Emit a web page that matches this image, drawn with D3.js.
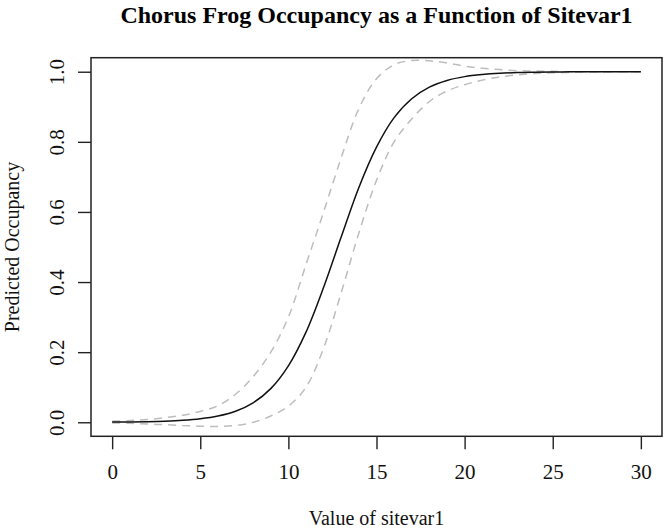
<!DOCTYPE html>
<html>
<head>
<meta charset="utf-8">
<script src="https://cdn.jsdelivr.net/npm/d3@7"></script>
<style>
  body { margin:0; background:#fff; }
  text { font-family:"Liberation Serif","Times New Roman",serif; }
</style>
</head>
<body>
<div class="canvas"></div>
<script>
// values
const sitevar = [0,1,2,3,4,5,6,7,8,9,10,11,12,13,14,15,16,17,18,19,20,21,22,23,24,25,26,27,28,29,30];
const predicted = [0.0005,0.001,0.0017,0.0031,0.0055,0.0099,0.0178,0.0316,0.0556,0.096,0.161,0.257,0.385,0.529,0.670,0.785,0.869,0.923,0.956,0.975,0.986,0.992,0.9956,0.9976,0.9987,0.9993,0.9996,0.9998,0.9999,0.9999,1.0];
const upper = [0.003,0.005,0.008,0.013,0.020,0.031,0.047,0.080,0.130,0.200,0.300,0.450,0.600,0.755,0.895,0.980,1.020,1.032,1.031,1.025,1.016,1.010,1.006,1.003,1.002,1.001,1.000,1.000,1.000,1.000,1.000];
const lower = [-0.002,-0.003,-0.005,-0.007,-0.009,-0.011,-0.012,-0.009,0.000,0.018,0.046,0.100,0.212,0.370,0.540,0.690,0.800,0.865,0.915,0.945,0.963,0.976,0.985,0.991,0.995,0.997,0.998,0.999,0.9995,1.0,1.0];
const xTicks = [0,5,10,15,20,25,30];
const yTicks = [0,0.2,0.4,0.6,0.8,1.0];

const dim = {
    width:663,
    height:529,
    left:91,
    right:662,
    top:57.7,
    bottom:436.3
};

const svg = d3.select('.canvas')
    .append('svg')
    .attr('width',dim.width)
    .attr('height',dim.height);

const x = d3.scaleLinear()
    .domain([-1.2,31.2])
    .range([dim.left,dim.right]);

const y = d3.scaleLinear()
    .domain([-0.04,1.04])
    .range([dim.bottom,dim.top]);

//x axis
const xAxis = svg.append('g')
    .attr('transform',`translate(0,${dim.bottom})`)
    .call(d3.axisBottom(x).tickValues(xTicks).tickSize(13).tickPadding(15).tickFormat(d3.format('d')));
xAxis.select('.domain').remove();
xAxis.selectAll('line').attr('stroke','#222').attr('stroke-width',1.4);
xAxis.selectAll('text')
    .attr('font-size',21)
    .attr('fill','#111');

//y axis
const yAxis = svg.append('g')
    .attr('transform',`translate(${dim.left},0)`)
    .call(d3.axisLeft(y).tickValues(yTicks).tickSize(13).tickFormat(d3.format('.1f')));
yAxis.select('.domain').remove();
yAxis.selectAll('line').attr('stroke','#222').attr('stroke-width',1.4);
yAxis.selectAll('text')
    .attr('font-size',21)
    .attr('fill','#111')
    .attr('text-anchor','middle')
    .attr('x',0)
    .attr('dy',0)
    .attr('transform','translate(-27,0) rotate(-90)');

//box
svg.append('rect')
    .attr('x',dim.left)
    .attr('y',dim.top)
    .attr('width',dim.right-dim.left)
    .attr('height',dim.bottom-dim.top)
    .attr('fill','none')
    .attr('stroke','#222')
    .attr('stroke-width',1.5);

const line = (vals) => d3.line()
    .x((d,i)=>x(sitevar[i]))
    .y(d=>y(d))
    .curve(d3.curveCatmullRom)(vals);

const graph = svg.append('g');

graph.append('path')
    .attr('d',line(upper))
    .attr('fill','none')
    .attr('stroke','#bdbdbd')
    .attr('stroke-width',1.5)
    .attr('stroke-dasharray','8,6');

graph.append('path')
    .attr('d',line(lower))
    .attr('fill','none')
    .attr('stroke','#bdbdbd')
    .attr('stroke-width',1.5)
    .attr('stroke-dasharray','8,6');

graph.append('path')
    .attr('d',line(predicted))
    .attr('fill','none')
    .attr('stroke','#111')
    .attr('stroke-width',1.5);

//titles
svg.append('text')
    .attr('x',(dim.left+dim.right)/2)
    .attr('y',23)
    .attr('text-anchor','middle')
    .attr('font-size',24)
    .attr('font-weight','bold')
    .text('Chorus Frog Occupancy as a Function of Sitevar1');

svg.append('text')
    .attr('x',(dim.left+dim.right)/2)
    .attr('y',525)
    .attr('text-anchor','middle')
    .attr('font-size',20)
    .attr('fill','#111')
    .text('Value of sitevar1');

svg.append('text')
    .attr('transform',`translate(19,${(dim.top+dim.bottom)/2}) rotate(-90)`)
    .attr('text-anchor','middle')
    .attr('font-size',20)
    .attr('fill','#111')
    .text('Predicted Occupancy');
</script>
</body>
</html>
